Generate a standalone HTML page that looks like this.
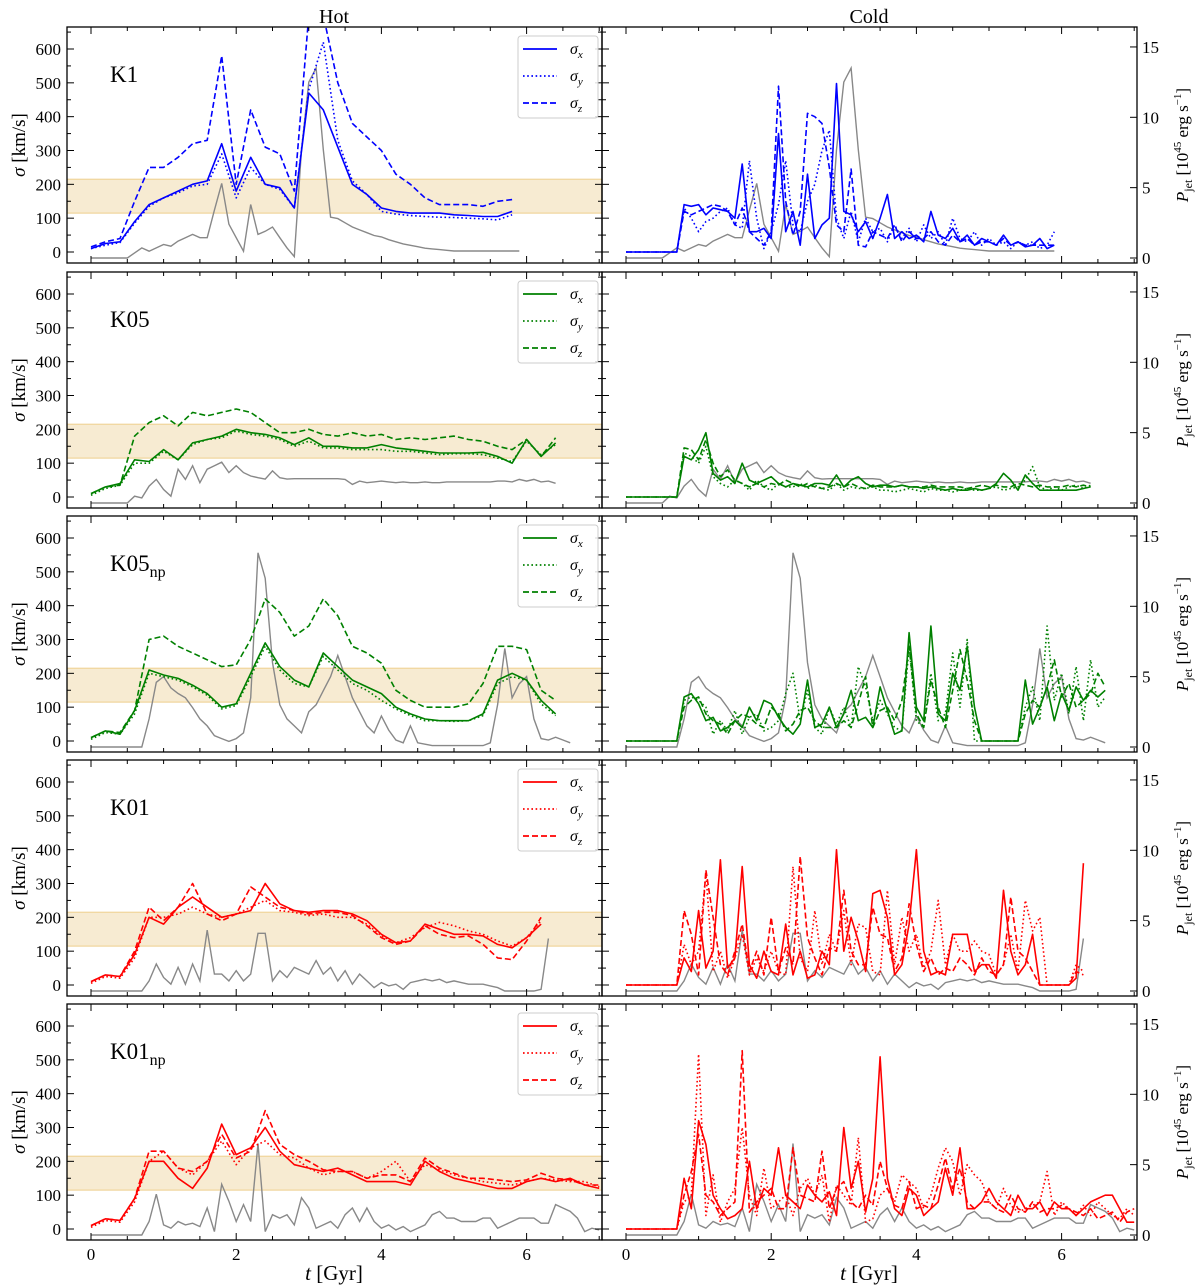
<!DOCTYPE html>
<html><head><meta charset="utf-8"><style>
html,body{margin:0;padding:0;background:#fff}
svg{display:block;font-family:"Liberation Serif",serif}
</style></head><body>
<svg id="fig" width="1200" height="1286" viewBox="0 0 1200 1286" xmlns="http://www.w3.org/2000/svg">
<text x="334" y="23" font-size="20" text-anchor="middle">Hot</text>
<text x="869" y="23" font-size="20" text-anchor="middle">Cold</text>
<text x="334" y="1280" font-size="21" text-anchor="middle"><tspan font-style="italic">t</tspan> [Gyr]</text>
<text x="869" y="1280" font-size="21" text-anchor="middle"><tspan font-style="italic">t</tspan> [Gyr]</text>
</svg>
<script>
const hotStep = 0.2;
const coldStep = 0.1;
const rowNames = ["K1","K05","K05np","K01","K01np"];
const sigmaTicks = [0,100,200,300,400,500,600];
const pTicks = [0,5,10,15];
const tTicks = [0,2,4,6];
const band = [115,215];

// ---- K1 ----
const k1HotSx = [10,25,30,90,140,160,180,200,210,320,180,280,200,190,130,470,420,310,200,170,130,120,115,115,115,110,108,105,105,120];
const k1HotSy = [10,20,28,85,135,160,175,195,200,290,160,250,200,185,130,480,620,330,210,170,120,112,108,105,103,102,100,98,95,110];
const k1HotSz = [15,30,40,150,250,250,280,320,330,580,200,420,310,290,180,700,700,500,380,340,300,230,200,160,140,140,140,135,150,155];
const k1Pjet = [0,0,0,0,0,0,0.36,0.72,0.48,0.72, 0.96,0.84,1.2,1.44,1.68,1.44,1.44,3.4,5.3,2.4, 1.44,0.48,3.8,1.68,1.9,2.2,1.44,0.72,0.1,7.7, 12.5,13.5,7.7,2.9,2.8,2.5,2.2,2.0,1.8,1.6, 1.5,1.3,1.15,1.0,0.9,0.8,0.7,0.65,0.6,0.55, 0.5,0.5,0.5,0.5,0.5,0.5,0.5,0.5,0.5,0.5];
const k1ColdSx = [0,0,0,0,0,0,0,0,140,135, 140,110,130,125,120,100,260,60,60,70, 40,350,60,120,20,230,40,80,100,498, 120,110,60,90,40,100,170,40,60,40, 50,30,120,50,40,70,30,50,20,40, 30,20,50,20,30,15,20,40,10,20];
const k1ColdSy = [0,0,0,0,0,0,0,0,130,100, 60,90,100,120,130,80,70,270,100,10, 60,140,270,80,60,150,200,300,360,100, 40,120,30,100,60,70,30,80,40,70, 30,80,40,60,20,100,40,30,60,20, 40,20,30,10,30,20,30,10,20,60];
const k1ColdSz = [0,0,0,0,0,0,0,0,120,110, 120,130,140,135,120,80,130,60,40,20, 60,490,150,50,120,410,400,380,250,80, 60,245,20,15,60,50,40,80,30,60, 40,40,60,30,20,50,30,40,20,30, 30,20,40,20,30,20,20,20,20,20];

// ---- K05 ----
const k05HotSx = [10,30,40,110,105,140,110,160,170,180,200,190,185,175,155,175,150,150,145,145,155,145,140,135,130,130,130,132,120,100,170,120,160];
const k05HotSy = [5,25,35,100,100,135,110,155,170,175,195,185,180,170,150,165,145,145,140,140,140,135,135,130,125,128,128,125,115,105,165,125,155];
const k05HotSz = [10,30,35,180,220,240,210,250,240,250,260,250,220,190,190,200,185,180,190,180,185,170,175,170,175,180,170,165,150,140,170,120,175];
const k05Pjet = [0,0,0,0,0,0,0.48,0.36,1.2,1.68, 0.96,0.48,2.4,1.68,2.65,1.44,2.4,2.65,2.9,2.16, 2.65,2.16,1.92,1.8,1.7,2.28,1.8,1.7,1.73,1.73, 1.73,1.73,1.73,1.73,1.73,1.68,1.32,1.56,1.44,1.5, 1.56,1.5,1.44,1.5,1.44,1.44,1.5,1.44,1.44,1.5, 1.5,1.5,1.5,1.5,1.5,1.5,1.56,1.56,1.5,1.68, 1.56,1.68,1.5,1.56,1.4];
const k05ColdSx = [0,0,0,0,0,0,0,0,120,110, 140,190,70,50,60,40,100,50,40,50, 60,40,30,40,35,30,40,40,35,65, 30,50,60,40,30,35,35,30,35,30, 30,25,30,25,20,25,20,20,25,20, 25,40,70,50,20,65,40,20,20,20, 20,20,20,25,30];
const k05ColdSy = [0,0,0,0,0,0,0,0,130,120, 100,150,60,40,30,50,40,20,50,30, 20,40,30,30,40,25,35,25,20,40, 20,30,25,25,30,20,20,15,20,25, 20,15,25,20,20,15,20,25,20,20, 25,30,20,25,30,50,90,30,20,30, 20,30,35,25,35];
const k05ColdSz = [0,0,0,0,0,0,0,0,145,140, 110,170,100,60,80,50,40,30,40,30, 40,35,50,40,30,40,30,25,30,40, 30,40,30,25,35,30,30,30,35,30, 30,30,35,30,30,30,30,25,30,35, 30,35,30,30,40,35,30,35,30,30, 30,35,30,35,30];

// ---- K05np ----
const k05npHotSx = [10,30,20,90,210,195,185,165,140,100,110,200,290,220,180,160,260,220,180,160,140,100,80,65,60,60,60,80,180,200,180,120,80];
const k05npHotSy = [5,25,20,80,200,190,180,160,135,95,105,190,280,210,170,160,250,210,170,150,120,95,75,60,60,58,60,75,170,190,180,110,75];
const k05npHotSz = [10,30,25,90,300,310,280,260,240,220,225,300,420,380,310,340,420,370,280,260,230,150,120,100,100,100,110,170,280,280,270,150,120];
const k05npPjet = [0,0,0,0,0,0,0,0,2,4.6, 5,4.2,3.8,3.5,2.8,2.0,1.5,0.8,0.6,0.4, 0.6,1.0,3.5,13.8,12,6,3,2,1.5,1.0, 2.5,3,4,5,6.5,5,3.5,2.5,1.5,1.0, 2.2,1.2,0.5,0.3,1.5,0.3,0.2,0.1,0.1,0.1, 0.1,0.1,0.1,0.1,0.1,0.3,3,7,3.5,4.5, 5,2,0.6,0.5,0.7,0.5,0.3];
const k05npColdSx = [0,0,0,0,0,0,0,0,130,140, 110,60,70,30,40,60,40,100,60,120, 110,70,40,20,50,180,40,50,100,40, 80,150,60,70,40,160,90,20,30,320, 100,60,340,80,60,200,150,280,100,0, 0,0,0,0,0,180,50,100,160,60, 140,90,160,120,150,130,150];
const k05npColdSy = [0,0,0,0,0,0,0,0,120,130, 120,100,20,60,30,90,20,70,80,30, 40,60,140,200,60,150,40,20,100,50, 100,40,220,160,60,120,80,40,30,280, 60,40,200,60,80,260,100,300,0,0, 0,0,0,0,0,100,160,60,340,120, 200,80,220,60,240,100,130];
const k05npColdSz = [0,0,0,0,0,0,0,0,100,120, 130,80,60,50,20,60,80,70,50,40, 100,80,30,50,90,100,60,40,40,40, 60,40,110,190,40,90,100,60,120,280, 80,40,180,100,40,150,270,180,60,0, 0,0,0,0,0,80,120,100,160,240, 130,170,100,120,140,200,160];

// ---- K01 ----
const k01HotSx = [10,30,25,90,200,180,230,260,230,200,210,220,300,240,220,215,220,220,210,190,150,125,130,180,165,150,150,145,120,110,140,180];
const k01HotSy = [5,25,20,80,200,200,210,230,210,200,210,230,250,220,215,205,210,200,200,180,145,125,140,170,185,175,160,150,130,115,140,190];
const k01HotSz = [10,30,25,100,230,190,230,300,210,190,210,290,260,230,220,210,215,215,205,175,140,120,130,175,150,140,145,120,80,75,130,200];
const k01Pjet = [0,0,0,0,0,0,0,0,0.72,1.92, 0.96,0.48,1.68,0.48,1.92,0.72,4.33,1.2,1.2,0.72, 1.44,0.72,1.2,4.1,4.1,0.72,1.44,0.96,1.68,1.44, 1.2,2.16,1.2,1.68,0.72,1.44,0.48,1.2,0.72,0.24, 0.6,0.36,0.48,0.12,0.6,0.72,0.84,0.72,0.84,0.6, 0.72,0.6,0.48,0.48,0.48,0.36,0.24,0,0,0, 0,0,0.12,3.73];
const k01ColdSx = [0,0,0,0,0,0,0,0,80,40, 220,50,100,370,50,80,350,60,20,100, 40,30,180,30,100,20,30,100,60,400, 100,200,130,40,270,280,200,30,60,180, 400,100,30,40,30,150,150,150,40,60, 60,20,280,100,30,60,150,0,0,0, 0,0,20,360];
const k01ColdSy = [0,0,0,0,0,0,0,0,120,60, 100,330,40,100,20,80,150,30,80,40, 100,40,30,350,80,40,220,60,150,100, 220,60,180,170,40,30,280,60,200,100, 150,50,100,250,60,150,100,100,130,100, 90,30,60,150,40,250,160,200,0,0, 0,0,60,40];
const k01ColdSz = [0,0,0,0,0,0,0,0,220,150, 30,340,200,60,30,100,180,40,100,30, 200,40,110,60,380,140,80,30,110,100, 280,100,60,60,230,150,140,40,80,240, 120,40,80,30,50,40,80,60,30,80, 40,30,60,260,100,80,40,0,0,0, 0,0,40,30];

// ---- K01np ----
const k01npHotSx = [10,30,25,90,200,200,150,120,180,310,220,240,300,230,190,180,170,180,160,140,140,140,130,200,170,150,140,130,120,120,140,150,140,150,130,120];
const k01npHotSy = [5,25,20,80,200,230,180,160,200,260,190,240,260,220,210,180,160,170,170,150,170,200,140,190,175,160,150,140,135,130,140,150,145,140,140,125];
const k01npHotSz = [10,30,25,90,230,230,180,170,200,280,210,230,350,250,220,200,175,170,170,150,160,160,140,210,180,165,150,150,145,140,145,165,150,145,130,130];
const k01npPjet = [0,0,0,0,0,0,0,0,0.96,2.9, 0.72,0.48,0.96,0.72,0.84,0.6,1.92,0.24,3.6,2.4, 0.96,2.16,0.96,6.5,0.24,1.44,1.2,1.44,0.72,2.65, 1.92,0.48,0.72,0.96,0.48,1.44,1.92,0.96,1.92,0.96, 0.48,0.72,0.36,0.6,0.24,0.48,0.72,1.44,1.68,1.2, 1.2,0.96,0.96,0.96,1.2,1.2,0.48,0.72,0.96,1.2, 1.2,1.2,0.84,0.84,2.16,1.92,1.68,1.2,0.24,0.48, 0.36];
const k01npColdSx = [0,0,0,0,0,0,0,0,150,60, 320,250,100,60,30,40,60,200,60,120, 100,240,100,80,60,130,100,80,110,40, 300,120,200,50,150,509,150,60,40,120, 100,40,60,80,180,100,240,60,60,80, 120,80,60,40,100,60,60,80,40,80, 60,60,40,60,80,90,100,100,60,20, 20];
const k01npColdSy = [0,0,0,0,0,0,0,0,80,100, 517,40,160,20,80,120,300,100,40,180, 60,80,100,40,120,150,100,160,20,130, 100,70,270,20,30,100,120,80,160,140, 120,60,100,180,240,200,100,190,160,140, 80,60,120,70,50,60,70,80,170,40, 80,60,40,70,40,80,60,40,30,60, 40];
const k01npColdSz = [0,0,0,0,0,0,0,0,100,170, 280,100,80,40,60,80,527,50,80,100, 120,60,60,240,100,90,80,230,60,120, 140,80,60,100,70,200,120,70,60,140, 60,70,60,130,210,120,180,80,60,80, 80,60,50,100,60,50,80,50,60,60, 70,60,50,40,60,30,40,50,20,50, 60];

const rows = [
  {hot:[k1HotSx,k1HotSy,k1HotSz], cold:[k1ColdSx,k1ColdSy,k1ColdSz], p:k1Pjet, color:"#0000ff"},
  {hot:[k05HotSx,k05HotSy,k05HotSz], cold:[k05ColdSx,k05ColdSy,k05ColdSz], p:k05Pjet, color:"#008000"},
  {hot:[k05npHotSx,k05npHotSy,k05npHotSz], cold:[k05npColdSx,k05npColdSy,k05npColdSz], p:k05npPjet, color:"#008000"},
  {hot:[k01HotSx,k01HotSy,k01HotSz], cold:[k01ColdSx,k01ColdSy,k01ColdSz], p:k01Pjet, color:"#ff0000"},
  {hot:[k01npHotSx,k01npHotSy,k01npHotSz], cold:[k01npColdSx,k01npColdSy,k01npColdSz], p:k01npPjet, color:"#ff0000"}
];

const NS = "http://www.w3.org/2000/svg";
const svg = document.getElementById("fig");
const rowTops = [27, 272, 516, 760, 1004];
const PH = 236;
const colLeft = [67, 602];
const PW = 535;
const dashes = ["", "1.6 2.6", "6 3"];
const comps = ["x","y","z"];

function mk(tag, attrs, parent){
  const e = document.createElementNS(NS, tag);
  for (const k in attrs) e.setAttribute(k, attrs[k]);
  (parent||svg).appendChild(e);
  return e;
}
function xScale(col, t){ return colLeft[col] + 24 + t*72.6; }
function ySig(row, s){ return rowTops[row] + 225 - s*203/600; }
function yP(row, p){ return rowTops[row] + 231 - p*14.07; }
function pathFrom(vals, step, col, row, yf){
  let d = "";
  vals.forEach((v,i)=>{ d += (i?"L":"M") + xScale(col, i*step).toFixed(1) + "," + yf(row, v).toFixed(1); });
  return d;
}

rows.forEach((R, r)=>{
  const top = rowTops[r];
  for (let c=0;c<2;c++){
    const L = colLeft[c];
    const g = mk("g", {});
    
    
    const cp = mk("clipPath", {id:"cp"+r+c}, g);
    mk("rect", {x:L, y:top, width:PW, height:PH}, cp);
    const inner = mk("g", {"clip-path":"url(#cp"+r+c+")"}, g);
    if (c===0){
      const b = mk("rect", {x:L, y:ySig(r,band[1]), width:PW, height:ySig(r,band[0])-ySig(r,band[1]), fill:"#f7ebd2", stroke:"#f0d49a", "stroke-width":"1.2"}, inner);
      
      
    }
    // jet power (gray)
    const gp = mk("path", {d:pathFrom(R.p, coldStep, c, r, yP), fill:"none", stroke:"#888", "stroke-width":"1.4"}, inner);
    
    
    const series = c===0 ? R.hot : R.cold;
    const step = c===0 ? hotStep : coldStep;
    series.forEach((vals, k)=>{
      const p = mk("path", {d:pathFrom(vals, step, c, r, ySig), fill:"none", stroke:R.color, "stroke-width":"1.6", "stroke-linejoin":"round"}, inner);
      if (dashes[k]) p.setAttribute("stroke-dasharray", dashes[k]);
      
      
    });
    // frame
    mk("rect", {x:L, y:top, width:PW, height:PH, fill:"none", stroke:"#000", "stroke-width":"1.3"}, g);
    // x ticks
    for (let t=0; t<=7.001; t+=0.5){
      const x = xScale(c,t);
      if (x > L+PW) continue;
      const major = Math.abs(t/2 - Math.round(t/2))<1e-6;
      const len = major?7:4;
      mk("line", {x1:x, x2:x, y1:top+PH, y2:top+PH-len, stroke:"#000", "stroke-width":"1"}, g);
      mk("line", {x1:x, x2:x, y1:top, y2:top+len, stroke:"#000", "stroke-width":"1"}, g);
    }
    if (r===4){
      tTicks.forEach(t=>{
        const tl = mk("text", {x:xScale(c,t), y:top+PH+20, "font-size":"17", "text-anchor":"middle"}, g);
        tl.textContent = t;
        
        
      });
    }
    // sigma ticks
    for (let s=0; s<=650; s+=50){
      const y = ySig(r,s);
      const len = (s%100===0)?7:4;
      if (c===0){
        mk("line", {x1:L, x2:L+len, y1:y, y2:y, stroke:"#000", "stroke-width":"1"}, g);
        mk("line", {x1:L+PW, x2:L+PW-len, y1:y, y2:y, stroke:"#000", "stroke-width":"1"}, g);
      } else {
        mk("line", {x1:L, x2:L+len, y1:y, y2:y, stroke:"#000", "stroke-width":"1"}, g);
      }
    }
    if (c===0){
      sigmaTicks.forEach(s=>{
        const tl = mk("text", {x:L-6, y:ySig(r,s)+6, "font-size":"17", "text-anchor":"end"}, g);
        tl.textContent = s;
        
        
      });
      const lab = mk("text", {transform:"translate(25,"+(top+PH/2)+") rotate(-90)", "font-size":"19", "text-anchor":"middle"}, g);
      lab.innerHTML = '<tspan font-style="italic">σ</tspan> [km/s]';
      
      
      const name = mk("text", {x:110, y:top+55, "font-size":"23"}, g);
      name.innerHTML = rowNames[r].endsWith("np") ? rowNames[r].slice(0,-2)+'<tspan font-size="16" dy="6">np</tspan>' : rowNames[r];
      
      
      // legend
      const lg = mk("g", {}, g);
      
      
      mk("rect", {x:518, y:top+9, width:80, height:82, rx:3, fill:"#fff", "fill-opacity":"0.85", stroke:"#ccc", "stroke-width":"1"}, lg);
      comps.forEach((cc,k)=>{
        const yy = top+22+k*27;
        const ln = mk("line", {x1:523, x2:557, y1:yy, y2:yy, stroke:R.color, "stroke-width":"1.8"}, lg);
        if (dashes[k]) ln.setAttribute("stroke-dasharray", dashes[k]);
        const tx = mk("text", {x:570, y:yy+5, "font-size":"16", "font-style":"italic"}, lg);
        tx.innerHTML = 'σ<tspan font-size="11" dy="4">'+cc+'</tspan>';
        
        
      });
    } else {
      pTicks.forEach(p=>{
        const y = yP(r,p);
        mk("line", {x1:L+PW, x2:L+PW-7, y1:y, y2:y, stroke:"#000", "stroke-width":"1"}, g);
        const tl = mk("text", {x:L+PW+5, y:y+6, "font-size":"17"}, g);
        tl.textContent = p;
        
        
      });
      const lab = mk("text", {transform:"translate(1188,"+(top+PH/2)+") rotate(-90)", "font-size":"17", "text-anchor":"middle"}, g);
      lab.innerHTML = '<tspan font-style="italic">P</tspan><tspan font-size="12" dy="4">jet</tspan><tspan dy="-4"> [10</tspan><tspan font-size="11" dy="-7">45</tspan><tspan dy="7"> erg s</tspan><tspan font-size="11" dy="-7">−1</tspan><tspan dy="7">]</tspan>';
      
      
    }
  }
});
</script>
</body></html>
